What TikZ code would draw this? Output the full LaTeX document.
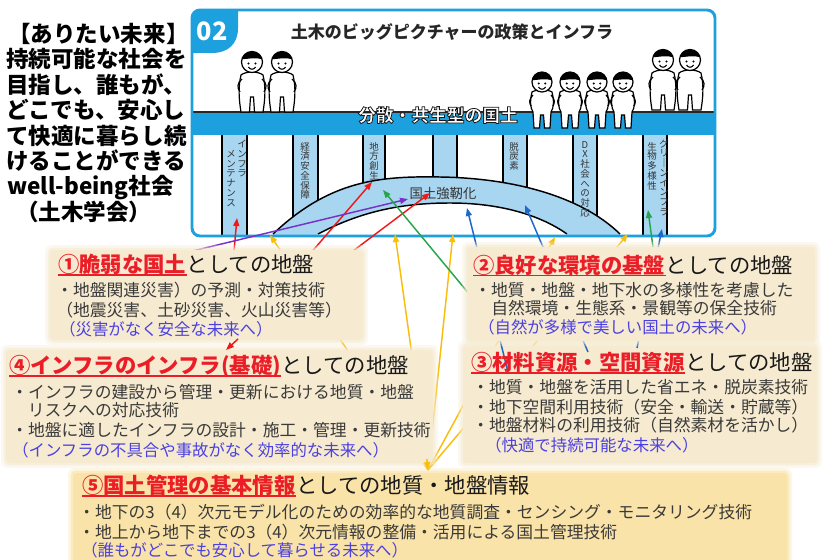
\documentclass[tikz,border=0pt]{standalone}
\usepackage{fontspec}
\setmainfont{Noto Sans CJK JP}
\usetikzlibrary{arrows.meta,calc}

\definecolor{panelblue}{RGB}{28,160,222}
\definecolor{lightblue}{RGB}{168,213,240}
\definecolor{boxbeige}{RGB}{246,234,208}
\definecolor{boxgold}{RGB}{250,227,168}
\definecolor{titlered}{RGB}{235,30,40}
\definecolor{bodygray}{RGB}{58,58,58}
\definecolor{futureblue}{RGB}{75,65,225}
\definecolor{arrred}{RGB}{240,25,25}
\definecolor{arrpurple}{RGB}{120,50,200}
\definecolor{arrgreen}{RGB}{40,165,75}
\definecolor{arrblue}{RGB}{30,105,200}
\definecolor{arryellow}{RGB}{250,190,10}

% white lettering with a thin dark outline (fill + stroke text mode)
\newcommand{\outlined}[1]{\special{pdf:literal direct 2 Tr 0.6 w 0.1 0.1 0.1 RG}#1\special{pdf:literal direct 0 Tr}}

\tikzset{
  lead/.style={font=\bfseries\fontsize{16.9pt}{19pt}\selectfont, text=black, inner sep=0pt, anchor=base west},
  ttlred/.style={font=\bfseries\fontsize{16pt}{18pt}\selectfont, text=titlered, inner sep=0pt, anchor=base west},
  ttlblk/.style={font=\fontsize{16pt}{18pt}\selectfont, text=black!90, inner sep=0pt, anchor=base west},
  body/.style={font=\fontsize{12.6pt}{14pt}\selectfont, text=bodygray, inner sep=0pt, anchor=base west},
  future/.style={font=\fontsize{12.3pt}{14pt}\selectfont, text=futureblue, inner sep=0pt, anchor=base west},
  uline/.style={titlered, line width=1.1pt},
  vlabel/.style={font=\fontsize{7.1pt}{7.3pt}\selectfont, align=center, inner sep=0pt, text=black!80, anchor=north},
  bandtext/.style={font=\bfseries\fontsize{13.3pt}{14pt}\selectfont, inner sep=0pt, anchor=base},
  arr/.style={line width=1.1pt, -{Triangle[length=6pt,width=4.5pt]}},
  pillarline/.style={line width=1.1pt, black},
  figline/.style={line width=0.9pt, black},
  standfig/.pic={
    \filldraw[figline, fill=white] (-11,-37) .. controls (-14,-25) and (-13,-12) .. (-11,0) -- (-2.5,0) -- (-1.5,-15) -- (1.5,-15) -- (2.5,0) -- (11,0) .. controls (13,-12) and (14,-25) .. (11,-37) .. controls (6,-41) and (-6,-41) .. cycle;
    \draw[figline] (-10,-33) .. controls (-15,-29) and (-15,-24) .. (-12,-20);
    \draw[figline] (10,-33) .. controls (15,-29) and (15,-24) .. (12,-20);
    \filldraw[figline, fill=white] (0,-50) circle (10.5);
    \fill (0,-50) ++(195:10.5) arc (195:345:10.5) .. controls (4,-55) and (-4,-53) .. cycle;
    \fill (-3.5,-48.5) circle (1.1);
    \fill (3.5,-48.5) circle (1.1);
    \draw[line width=0.8pt] (-3.5,-45) .. controls (-1.5,-42) and (1.5,-42) .. (3.5,-45);
  },
  sitfig/.pic={
    \filldraw[figline, fill=white] (-10,-20) .. controls (-12,-12) and (-12,-4) .. (-9,0) -- (-8,16) -- (-2.5,16) -- (-1.5,3) -- (1.5,3) -- (2.5,16) -- (8,16) -- (9,0) .. controls (12,-4) and (12,-12) .. (10,-20) .. controls (5,-23) and (-5,-23) .. cycle;
    \draw[figline] (-9,-17) .. controls (-13,-13) and (-13,-9) .. (-11,-6);
    \draw[figline] (9,-17) .. controls (13,-13) and (13,-9) .. (11,-6);
    \filldraw[figline, fill=white] (0,-30) circle (10);
    \fill (0,-30) ++(190:10) arc (190:350:10) .. controls (4,-34) and (-4,-32) .. cycle;
    \fill (-3.3,-28.5) circle (1.1);
    \fill (3.3,-28.5) circle (1.1);
    \draw[line width=0.8pt] (-3.5,-25) .. controls (-1.5,-22) and (1.5,-22) .. (3.5,-25);
  }
}

% a filled panel with a soft, faded rim
\newcommand{\softbox}[5]{%
  \fill[#1, opacity=0.3, rounded corners=5pt] ({#2-5},{#3-5}) rectangle ({#4+5},{#5+5});
  \fill[#1, opacity=0.55, rounded corners=4pt] ({#2-2.5},{#3-2.5}) rectangle ({#4+2.5},{#5+2.5});
  \fill[#1, rounded corners=3pt] (#2,#3) rectangle (#4,#5);
}

\begin{document}
\begin{tikzpicture}[x=0.75pt,y=-0.75pt]
\useasboundingbox (0,0) rectangle (832,560);
\fill[white] (0,0) rectangle (832,560);

% ---- statement on the left ----
\foreach \txt/\xx [count=\i from 0] in {【ありたい未来】/8, 持続可能な社会を/6, 目指し、誰もが、/6, どこでも、安心し/6, て快適に暮らし続/6, けることができる/6, well-being社会/7, （土木学会）/16}
  \node[lead] (lead\i) at (\xx,{42.5+25.4*\i}) {\txt};

% ---- policy panel ----
\fill[white, rounded corners=6pt] (192,10) rectangle (715,236);
\begin{scope}
  \clip[rounded corners=6pt] (192,10) rectangle (715,236);
  % number badge
  \fill[panelblue] (192,10) -- (238,10) -- (238,28) .. controls (238,44) and (228,53) .. (212,53) -- (192,53) -- cycle;
  % ground band
  \fill[panelblue] (192,112) rectangle (715,135);
  \draw[line width=0.9pt, black!85] (192,112) -- (715,112);
  % pillars
  \foreach \a/\b in {222/247, 293/318, 363/385, 433/457, 503/527, 573/597, 643/667} {
    \fill[lightblue] (\a,135) rectangle (\b,237);
    \draw[pillarline] (\a,135) -- (\a,237) (\b,135) -- (\b,237);
  }
  % arch
  \fill[lightblue] (273,238) -- (273,234) .. controls (330,180) and (380,176) .. (440,177) .. controls (510,178) and (580,195) .. (620,234) -- (620,238) -- cycle;
  \fill[white] (318,238) -- (318,234) .. controls (360,212) and (400,203) .. (450,203) .. controls (500,203) and (540,215) .. (567,234) -- (567,238) -- cycle;
  \draw[line width=1.1pt] (273,234) .. controls (330,180) and (380,176) .. (440,177) .. controls (510,178) and (580,195) .. (620,234);
  \draw[line width=1.1pt] (318,234) .. controls (360,212) and (400,203) .. (450,203) .. controls (500,203) and (540,215) .. (567,234);
\end{scope}
\draw[panelblue, line width=2.2pt, rounded corners=6pt] (192,10) rectangle (715,236);

\node[font=\bfseries\fontsize{19pt}{20pt}\selectfont, text=white, inner sep=0pt] (badgeno) at (212,31) {02};
\node[font=\bfseries\fontsize{12.75pt}{14pt}\selectfont, text=black!85, anchor=base, inner sep=0pt] (headline) at (452,38.5) {土木のビッグピクチャーの政策とインフラ};

% band label
\node[bandtext, text=white] (bandlabel) at (438,121.8) {\outlined{分散・共生型の国土}};

% people on the ground
\pic at (252,112) {standfig};
\pic at (282,112) {standfig};
\pic at (663,110) {standfig};
\pic at (690,110) {standfig};
\pic at (542,112) {sitfig};
\pic at (570,112) {sitfig};
\pic at (597,112) {sitfig};
\pic at (623,112) {sitfig};

% pillar labels
\node[vlabel] (pil1a) at (242,140) {イ\\ン\\フ\\ラ};
\node[vlabel] (pil1b) at (231,150) {メ\\ン\\テ\\ナ\\ン\\ス};
\node[vlabel] (pil2) at (305,142) {経\\済\\安\\全\\保\\障};
\node[vlabel] (pil3) at (374,142) {地\\方\\創\\生};
\node[vlabel] (pil5) at (514,142) {脱\\炭\\素};
\node[vlabel] (pil6) at (585,141) {D\\X\\社\\会\\へ\\の\\対\\応};
\node[vlabel] (pil7a) at (664,139) {グ\\リ\\｜\\ン\\イ\\ン\\フ\\ラ};
\node[vlabel] (pil7b) at (652,142) {生\\物\\多\\様\\性};
\node[font=\fontsize{10pt}{11pt}\selectfont, text=black!80, anchor=base, inner sep=0pt] (archlabel) at (443,198) {国土強靭化};

% ---- connector end points ----
\coordinate (yfoot) at (428,470);
\coordinate (ya) at (270,235);
\coordinate (yb) at (395,234);
\coordinate (yc) at (453,234);
\coordinate (yd) at (555,237);
\coordinate (ye) at (628,234);
\coordinate (yneck) at (426.8,459);
\coordinate (r1s) at (233,262);  \coordinate (r1e) at (237,218);
\coordinate (r2s) at (303,262);  \coordinate (r2e) at (372,182);
\coordinate (r3s) at (341,260);  \coordinate (r3e) at (430,193);
\coordinate (r4s) at (238,339);  \coordinate (r4e) at (226,350);
\coordinate (pus) at (180,254);  \coordinate (pue) at (408,199);
\coordinate (g1s) at (470,295);  \coordinate (g1e) at (383,190);
\coordinate (g2s) at (655,262);  \coordinate (g2e) at (648,210);
\coordinate (b1s) at (508,372);  \coordinate (b1e) at (467,208);
\coordinate (b2s) at (588,352);  \coordinate (b2e) at (525,205);
\coordinate (b3s) at (637,348);  \coordinate (b3e) at (662,229);

% yellow links from the national-land information base
\foreach \t in {ya,yb,yc,yd,ye}
  \draw[arr, arryellow] (yfoot) -- (\t);
% red, purple and green links
\draw[arr, arrred] (r1s) -- (r1e);
\draw[arr, arrred] (r2s) -- (r2e);
\draw[arr, arrred] (r3s) -- (r3e);
\draw[arr, arrpurple] (pus) -- (pue);
\draw[arr, arrgreen] (g1s) -- (g1e);
\draw[arr, arrgreen] (g2s) -- (g2e);

% resource panel, then its blue links
\softbox{boxbeige}{463}{346}{817}{463}
\draw[arr, arrblue] (b1s) -- (b1e);
\draw[arr, arrblue] (b2s) -- (b2e);
\draw[arr, arrblue] (b3s) -- (b3e);

% remaining panels
\softbox{boxbeige}{50}{250}{363}{340}
\softbox{boxbeige}{467}{247}{815}{341}
\softbox{boxbeige}{6}{350}{433}{463}
\softbox{boxgold}{73}{473}{787}{566}

\draw[arr, arrred] (r4s) -- (r4e);
\draw[arr, arryellow] (yneck) -- (yfoot);

% ---- panel 1 ----
\node[ttlred] (t1r) at (58,272.5) {①脆弱な国土};
\node[ttlblk] (t1b) at (t1r.base east) {としての地盤};
\draw[uline] ($(t1r.base west)+(0,2.5)$) -- ($(t1r.base east)+(0,2.5)$);
\node[body] (b1a) at (56,296.4) {・地盤関連災害）の予測・対策技術};
\node[body] (b1b) at (56,316.4) {（地震災害、土砂災害、火山災害等）};
\node[future] (f1) at (59,335) {（災害がなく安全な未来へ）};

% ---- panel 2 ----
\node[ttlred] (t2r) at (473,273) {②良好な環境の基盤};
\node[ttlblk] (t2b) at (t2r.base east) {としての地盤};
\draw[uline] ($(t2r.base west)+(0,2.5)$) -- ($(t2r.base east)+(0,2.5)$);
\node[body] (b2a) at (474,296.4) {・地質・地盤・地下水の多様性を考慮した};
\node[body] (b2b) at (491,314.4) {自然環境・生態系・景観等の保全技術};
\node[future] (f2) at (478,333) {（自然が多様で美しい国土の未来へ）};

% ---- panel 3 ----
\node[ttlred] (t3r) at (471,370.5) {③材料資源・空間資源};
\node[ttlblk] (t3b) at (t3r.base east) {としての地盤};
\draw[uline] ($(t3r.base west)+(0,2.5)$) -- ($(t3r.base east)+(0,2.5)$);
\node[body] (b3a) at (472,393.4) {・地質・地盤を活用した省エネ・脱炭素技術};
\node[body] (b3b) at (472,413.4) {・地下空間利用技術（安全・輸送・貯蔵等）};
\node[body] (b3c) at (472,431.4) {・地盤材料の利用技術（自然素材を活かし）};
\node[future] (f3) at (485,451) {（快適で持続可能な未来へ）};

% ---- panel 4 ----
\node[ttlred] (t4r) at (9,373.5) {④インフラのインフラ(基礎)};
\node[ttlblk] (t4b) at (t4r.base east) {としての地盤};
\draw[uline] ($(t4r.base west)+(0,2.5)$) -- ($(t4r.base east)+(0,2.5)$);
\node[body] (b4a) at (11,398.4) {・インフラの建設から管理・更新における地質・地盤};
\node[body] (b4b) at (27.6,416.4) {リスクへの対応技術};
\node[body] (b4c) at (11,436.4) {・地盤に適したインフラの設計・施工・管理・更新技術};
\node[future] (f4) at (12,456) {（インフラの不具合や事故がなく効率的な未来へ）};

% ---- panel 5 ----
\node[ttlred] (t5r) at (82,493.5) {⑤国土管理の基本情報};
\node[ttlblk] (t5b) at (t5r.base east) {としての地質・地盤情報};
\draw[uline] ($(t5r.base west)+(0,2.5)$) -- ($(t5r.base east)+(0,2.5)$);
\node[body] (b5a) at (78,518.4) {・地下の3（4）次元モデル化のための効率的な地質調査・センシング・モニタリング技術};
\node[body] (b5b) at (78,538.4) {・地上から地下までの3（4）次元情報の整備・活用による国土管理技術};
\node[future] (f5) at (81,556) {（誰もがどこでも安心して暮らせる未来へ）};
\end{tikzpicture}
\end{document}
